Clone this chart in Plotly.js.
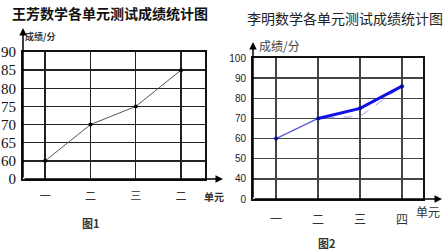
<!DOCTYPE html>
<html><head><meta charset="utf-8">
<script src="https://cdn.plot.ly/plotly-3.0.1.min.js"></script>
<style>html,body{margin:0;padding:0;background:#fff}#c{width:448px;height:250px}</style>
</head><body><div id="c"></div>
<script>
// Data
const units1 = ['一', '二', '三', '二'];
const wangFang = [60, 70, 75, 85];
const yTicks1 = [55, 60, 65, 70, 75, 80, 85, 90];
const yLabels1 = ['0', '60', '65', '70', '75', '80', '85', '90'];

const units2 = ['一', '二', '三', '四'];
const liMing = [60, 70, 75, 86];
const liMingDraft = [60, 70, 71, 86];
const yTicks2 = [30, 40, 50, 60, 70, 80, 90, 100];
const yLabels2 = ['0', '40', '50', '60', '70', '80', '90', '100'];

const idx1 = units1.map((_, i) => i);
const idx2 = units2.map((_, i) => i);
const W = 448, H = 250;
const px = v => v / W, py = v => 1 - v / H;
const CJK = '"Noto Sans CJK SC", sans-serif';

const traces = [
  {x: idx1, y: wangFang, xaxis: 'x', yaxis: 'y', mode: 'lines+markers',
   line: {color: '#555', width: 1}, marker: {color: '#000', size: 4}, hoverinfo: 'none'},
  {x: idx2, y: liMingDraft, xaxis: 'x2', yaxis: 'y2', mode: 'lines',
   line: {color: '#9aa3e0', width: 1, dash: 'dash'}, hoverinfo: 'none'},
  {x: idx2.slice(0, 2), y: liMing.slice(0, 2), xaxis: 'x2', yaxis: 'y2', mode: 'lines',
   line: {color: '#5a63d6', width: 1.3}, hoverinfo: 'none'},
  {x: idx2.slice(1), y: liMing.slice(1), xaxis: 'x2', yaxis: 'y2', mode: 'lines',
   line: {color: '#1010e8', width: 3}, hoverinfo: 'none'},
  {x: idx2, y: liMing, xaxis: 'x2', yaxis: 'y2', mode: 'markers',
   marker: {color: '#0a0a9a', size: 4}, hoverinfo: 'none'}
];

function label(x, y, text, font) {
  return {xref: 'paper', yref: 'paper', x: px(x), y: py(y), xanchor: 'center', yanchor: 'middle',
          text: text, showarrow: false, font: font};
}
function arrow(hx, hy, ax, ay) {
  return {xref: 'paper', yref: 'paper', x: px(hx), y: py(hy), ax: ax, ay: ay, text: '', showarrow: true,
          arrowhead: 2, arrowsize: 1, arrowwidth: 1.5, arrowcolor: '#000'};
}

const layout = {
  width: W, height: H, margin: {l: 0, r: 0, t: 0, b: 0},
  paper_bgcolor: '#fff', plot_bgcolor: '#fff', showlegend: false,
  xaxis: {domain: [px(23), px(205)], range: [-0.49, 3.53], tickvals: idx1, ticktext: units1,
    showgrid: true, gridcolor: '#222', gridwidth: 1.5, zeroline: false,
    showline: true, mirror: true, linecolor: '#111', linewidth: 2,
    ticks: '', ticklabelstandoff: 6, tickfont: {family: CJK, size: 11, color: '#333'}},
  yaxis: {domain: [py(179), py(52)], range: [55, 90], tickvals: yTicks1, ticktext: yLabels1,
    showgrid: true, gridcolor: '#222', gridwidth: 1.5, zeroline: false,
    showline: true, mirror: true, linecolor: '#111', linewidth: 2,
    ticks: '', ticklabelstandoff: 2, tickfont: {family: '"Liberation Serif", serif', size: 15, color: '#111'}},
  xaxis2: {domain: [px(253), px(423)], range: [-0.55, 3.5], tickvals: idx2, ticktext: units2, anchor: 'y2',
    showgrid: true, gridcolor: '#444', gridwidth: 1.3, zeroline: false,
    showline: true, mirror: true, linecolor: '#111', linewidth: 2,
    ticks: '', ticklabelstandoff: 9, tickfont: {family: CJK, size: 12, color: '#333'}},
  yaxis2: {domain: [py(199), py(58)], range: [30, 100], tickvals: yTicks2, ticktext: yLabels2, anchor: 'x2',
    showgrid: true, gridcolor: '#444', gridwidth: 1.3, zeroline: false,
    showline: true, mirror: true, linecolor: '#111', linewidth: 2,
    ticks: '', ticklabelstandoff: 3, tickfont: {family: '"Liberation Sans Narrow", "Liberation Sans", sans-serif', size: 10, color: '#222'}},
  annotations: [
    label(110, 13, '<b>王芳数学各单元测试成绩统计图</b>', {family: CJK, size: 14, color: '#111'}),
    label(345, 18, '李明数学各单元测试成绩统计图', {family: CJK, size: 14, color: '#222'}),
    label(40, 36, '<b>成绩/分</b>', {family: CJK, size: 9, color: '#333'}),
    label(279, 46, '成绩/分', {family: CJK, size: 12, color: '#444'}),
    label(214, 196, '<b>单元</b>', {family: CJK, size: 10, color: '#333'}),
    label(428, 211, '单元', {family: CJK, size: 12, color: '#333'}),
    label(91, 223, '<b>图1</b>', {family: CJK, size: 11, color: '#333'}),
    label(327, 243, '<b>图2</b>', {family: CJK, size: 11, color: '#333'}),
    arrow(23, 28, 0, 151),
    arrow(223, 179, -200, 0),
    arrow(253, 42, 0, 157),
    arrow(442, 199, -189, 0)
  ]
};
Plotly.newPlot('c', traces, layout, {staticPlot: true, displayModeBar: false});
</script></body></html>
